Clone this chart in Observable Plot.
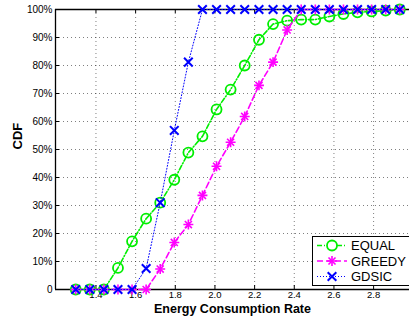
<!DOCTYPE html>
<html><head><meta charset="utf-8">
<script src="https://cdn.jsdelivr.net/npm/d3@7"></script>
<script src="https://cdn.jsdelivr.net/npm/@observablehq/plot@0.6"></script>
<style>
body{margin:0;background:#fff;}
#chart svg{display:block;}
</style></head><body><div id="chart"></div>
<script>
const rates = [1.298, 1.369, 1.440, 1.511, 1.582, 1.653, 1.724, 1.795, 1.866, 1.937, 2.008, 2.079, 2.150, 2.222, 2.293, 2.364, 2.435, 2.506, 2.577, 2.648, 2.719, 2.790, 2.861, 2.932];
const equalCdf  = [0, 0, 0, 0.077, 0.172, 0.253, 0.31, 0.392, 0.489, 0.547, 0.643, 0.714, 0.80, 0.892, 0.948, 0.96, 0.964, 0.964, 0.975, 0.984, 0.99, 0.993, 0.996, 1.0];
const greedyCdf = [0, 0, 0, 0, 0, 0, 0.073, 0.168, 0.232, 0.336, 0.44, 0.526, 0.618, 0.729, 0.812, 0.927, 1, 1, 1, 1, 1, 1, 1, 1];
const gdsicCdf  = [0, 0, 0, 0, 0, 0.075, 0.31, 0.568, 0.812, 1, 1, 1, 1, 1, 1, 1, 1, 1, 1, 1, 1, 1, 1, 1];
const seriesNames = ["EQUAL", "GREEDY", "GDSIC"];
const seriesColors = ["#00ee00", "#ff00ff", "#0000ff"];
const xTicks = [1.4, 1.6, 1.8, 2.0, 2.2, 2.4, 2.6, 2.8];
const yTicks = [0, 0.1, 0.2, 0.3, 0.4, 0.5, 0.6, 0.7, 0.8, 0.9, 1.0];
const xDomain = [1.196, 2.981];
const xLabel = "Energy Consumption Rate";
const yLabel = "CDF";

const allCdf = [equalCdf, greedyCdf, gdsicCdf];
const rows = seriesNames.flatMap((name, i) => rates.map((x, k) => ({series: name, x, y: allCdf[i][k]})));
const of = name => rows.filter(d => d.series === name);

const font = "'Liberation Sans', Arial, Helvetica, sans-serif";
const grid = {stroke: "#000", strokeOpacity: 0.5, strokeDasharray: "1,3", strokeWidth: 1};

const chart = Plot.plot({
  width: 409, height: 320,
  marginLeft: 55, marginRight: 0, marginTop: 9, marginBottom: 31,
  style: {fontFamily: font, fontSize: "10px", background: "#fff", color: "#000", overflow: "visible"},
  x: {domain: xDomain},
  y: {domain: [0, 1]},
  marks: [
    Plot.gridX(xTicks, grid),
    Plot.gridY(yTicks.slice(1, -1), grid),
    Plot.ruleX(xTicks, {insetTop: 276, stroke: "#000"}),
    Plot.ruleX(xTicks, {insetBottom: 276, stroke: "#000"}),
    Plot.ruleY(yTicks, {insetRight: 350, stroke: "#000"}),
    Plot.ruleY([0, 1], {stroke: "#000", strokeWidth: 1.3}),
    Plot.ruleX([xDomain[0]], {stroke: "#000", strokeWidth: 1.3}),
    Plot.axisX(xTicks, {anchor: "bottom", tickSize: 0, tickPadding: 2, label: null, fontSize: 9.5}),
    Plot.axisY(yTicks, {anchor: "left", tickSize: 0, tickPadding: 3, label: null, fontSize: 10,
      tickFormat: d => d === 0 ? "0" : Math.round(d * 100) + "%"}),
    Plot.text([xLabel], {frameAnchor: "bottom", dy: 23.5, fontWeight: "bold", fontSize: 12.5}),
    Plot.text([yLabel], {frameAnchor: "left", dx: -38, rotate: -90, fontWeight: "bold", fontSize: 13}),
    // EQUAL
    Plot.line(of("EQUAL"), {x: "x", y: "y", stroke: seriesColors[0], strokeWidth: 1.6, strokeDasharray: "5,2,1,2"}),
    Plot.dot(of("EQUAL"), {x: "x", y: "y", r: 5, stroke: seriesColors[0], strokeWidth: 1.8, fill: "none"}),
    // GREEDY
    Plot.line(of("GREEDY"), {x: "x", y: "y", stroke: seriesColors[1], strokeWidth: 1.6, strokeDasharray: "6,3"}),
    Plot.dot(of("GREEDY"), {x: "x", y: "y", r: 3.3, symbol: "plus", stroke: seriesColors[1], strokeWidth: 1.6}),
    Plot.dot(of("GREEDY"), {x: "x", y: "y", r: 3.3, symbol: "times", stroke: seriesColors[1], strokeWidth: 1.6}),
    // GDSIC
    Plot.line(of("GDSIC"), {x: "x", y: "y", stroke: seriesColors[2], strokeWidth: 1, strokeDasharray: "1,2"}),
    Plot.dot(of("GDSIC"), {x: "x", y: "y", r: 4, symbol: "times", stroke: seriesColors[2], strokeWidth: 2})
  ]
});

// Legend
const svg = d3.select(chart);
const lg = svg.append("g").attr("font-family", font).attr("font-size", 13).attr("text-anchor", "start");
lg.append("rect").attr("x", 312.5).attr("y", 236.5).attr("width", 100).attr("height", 49)
  .attr("fill", "#fff").attr("stroke", "#000").attr("stroke-width", 1);
const rowY = [245.5, 261, 276.5];
const dashes = ["5,2,1,2", "6,3", "1,2"];
const lws = [1.6, 1.6, 1];
seriesNames.forEach((name, i) => {
  const y = rowY[i];
  lg.append("line").attr("x1", 317).attr("x2", 347).attr("y1", y).attr("y2", y)
    .attr("stroke", seriesColors[i]).attr("stroke-width", lws[i]).attr("stroke-dasharray", dashes[i]);
  if (i === 0) {
    lg.append("circle").attr("cx", 332).attr("cy", y).attr("r", 5).attr("fill", "#fff")
      .attr("stroke", seriesColors[i]).attr("stroke-width", 1.8);
  } else if (i === 1) {
    lg.append("path").attr("transform", `translate(332,${y})`).attr("d", d3.symbol(d3.symbolPlus, Math.PI * 3.3 * 3.3)())
      .attr("fill", "none").attr("stroke", seriesColors[i]).attr("stroke-width", 1.6);
    lg.append("path").attr("transform", `translate(332,${y})`).attr("d", d3.symbol(d3.symbolTimes, Math.PI * 3.3 * 3.3)())
      .attr("fill", "none").attr("stroke", seriesColors[i]).attr("stroke-width", 1.6);
  } else {
    lg.append("path").attr("transform", `translate(332,${y})`).attr("d", d3.symbol(d3.symbolTimes, Math.PI * 16)())
      .attr("fill", "none").attr("stroke", seriesColors[i]).attr("stroke-width", 2);
  }
  lg.append("text").attr("x", 351).attr("y", y).attr("dy", "0.36em").attr("text-anchor", "start").text(name);
});

document.getElementById("chart").appendChild(chart);
</script>
</body></html>
